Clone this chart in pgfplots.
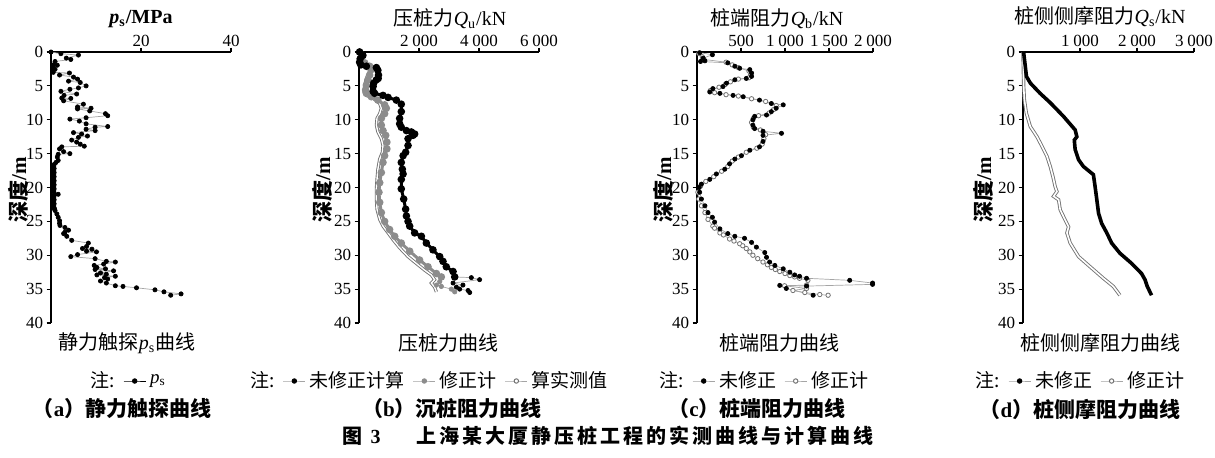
\documentclass[border=0pt]{standalone}
\usepackage{fontspec}
\setmainfont{Liberation Serif}
\newfontfamily\cjk{Noto Sans CJK SC}
\newfontfamily\cjkcap[LetterSpace=15]{Noto Sans CJK SC}
\usepackage{pgfplots}
\pgfplotsset{compat=1.18}
\definecolor{gfill}{RGB}{140,140,140}
\definecolor{gedge}{RGB}{115,115,115}
\definecolor{gline}{RGB}{165,165,165}
\pgfplotsset{
 panel/.style={
  scale only axis, height=135.5pt, anchor=north west,
  y dir=reverse, ymin=0, ymax=40, ytick={0,5,...,40},
  axis x line=top, axis y line=left,
  axis line style={-, line width=0.7pt},
  tick align=outside, major tick length=2.2pt,
  tick style={black, line width=0.6pt},
  enlargelimits=false, clip=false,
  tick label style={font=\fontsize{8.5}{9}\selectfont},
  xticklabel style={yshift=-3.2pt},
  yticklabel style={xshift=1.8pt},
  /pgf/number format/assume math mode=true,
  /pgf/number format/1000 sep={\hspace{0.22em}},
  legend style={draw=none, fill=none, anchor=center, legend columns=-1,
    font=\fontsize{9.5}{11}\selectfont, inner sep=0pt,
    /tikz/every even column/.append style={column sep=2pt}},
  legend image code/.code={\draw[mark repeat=2,mark phase=2,#1] plot coordinates {(0pt,0pt) (5.5pt,0pt) (11pt,0pt)};},
 },
 blk/.style={gline, line width=0.35pt, mark=*, mark size=1.05pt, mark options={draw=black, fill=black}},
 gry/.style={gline, line width=0.35pt, mark=*, mark size=1.1pt, mark options={draw=gedge, fill=white, line width=0.4pt}},
}
\begin{document}
\begin{tikzpicture}
\useasboundingbox (0,0) rectangle (607.5pt,-228.5pt);

% ---------- (a) ----------
\begin{axis}[panel, at={(25.5pt,-26pt)}, width=90pt, xmin=0, xmax=40, xtick={20,40},
  legend style={at={(axis description cs:0.43,-0.214)}}]
\addlegendimage{empty legend}\addlegendentry{\cjk 注:}
\addlegendimage{black, line width=0.5pt, mark=*, mark size=1.1pt, mark options={fill=black}}
\addlegendentry{\textit{p}\textsubscript{s}}
\addplot[blk, forget plot] coordinates {
(0,0) (2.2,0.25) (6.1,0.45) (3.4,0.9) (4.4,1.1) (0.9,1.4) (0.5,1.9) (1.4,1.95) (0.4,2.3) (0.9,2.55)
(0.4,2.8) (0.5,3.0) (4.1,3.1) (1.9,3.4) (5.0,3.7) (5.9,4.0) (3.9,4.3) (6.5,4.5) (7.8,5.0) (6.1,5.3)
(4.2,5.5) (2.2,5.8) (5.7,6.2) (2.9,6.4) (2.4,6.8) (4.4,6.85) (2.8,7.2) (7.2,7.7) (5.9,8.1) (8.9,8.3)
(5.9,8.4) (8.6,8.7) (12.1,9.1) (12.6,9.4) (7.8,9.7) (4.2,9.9) (6.3,10.2) (7.8,10.6) (12.6,11.0) (9.8,11.1)
(7.8,11.4) (9.8,11.6) (5.0,11.9) (6.8,12.1) (8.1,12.4) (6.1,12.6) (4.6,13.0) (5.7,13.3) (6.5,13.6) (7.4,13.9)
(2.4,14.0) (1.9,14.3) (2.8,14.7) (4.2,15.0) (1.6,15.1) (1.4,15.5) (1.6,16.0) (1.1,16.3)
(0.7,16.6) (0.6,16.9) (0.7,17.2) (0.6,17.5) (0.7,17.8) (0.6,18.1) (0.7,18.4) (0.6,18.7) (0.7,19.0)
(0.6,19.3) (0.7,19.6) (0.6,19.9) (0.7,20.2) (0.6,20.5) (0.7,20.8) (1.6,21.0) (0.7,21.2) (0.6,21.5)
(0.7,21.8) (0.6,22.1) (0.7,22.4) (0.6,22.7) (0.7,23.0) (0.8,23.2) (0.9,23.4) (1.3,23.9) (1.6,24.4)
(1.9,24.9) (1.9,25.3) (2.0,25.6) (3.1,25.9) (3.9,26.3) (3.1,26.6) (2.8,26.8) (3.5,27.2) (4.6,27.8)
(8.3,28.2) (7.9,28.7) (7.0,29.0) (9.1,29.1) (7.9,29.4) (10.1,29.5) (5.9,29.9) (4.4,30.2) (9.8,30.5)
(12.3,30.9) (14.3,31.0) (11.7,31.3) (9.6,31.5) (10.2,31.8) (12.1,32.0) (9.8,32.1) (13.9,32.3) (11.0,32.6)
(12.3,32.8) (10.2,32.9) (14.3,33.1) (11.9,33.3) (12.6,33.5) (11.0,33.8) (12.3,34.1) (14.3,34.5) (16.0,34.6)
(19.0,34.8) (23.1,35.1) (25.1,35.4) (28.9,35.7) (26.6,35.9)
};
\end{axis}

% ---------- (b) ----------
\begin{axis}[panel, at={(179.5pt,-26pt)}, width=90pt, xmin=0, xmax=6000, xtick={2000,4000,6000},
  legend style={at={(axis description cs:0.39,-0.214)}}]
\addlegendimage{empty legend}\addlegendentry{\cjk 注:}
\addlegendimage{gline, line width=0.5pt, mark=*, mark size=1.1pt, mark options={draw=black,fill=black}}
\addlegendentry{\cjk 未修正计算}
\addlegendimage{gline, line width=0.5pt, mark=*, mark size=1.1pt, mark options={draw=gfill,fill=gfill}}
\addlegendentry{\cjk 修正计}
\addlegendimage{gline, line width=0.5pt, mark=*, mark size=1.1pt, mark options={draw=gedge,fill=white}}
\addlegendentry{\cjk 算实测值}
% hollow (measured)
\addplot[forget plot, draw=gedge, line width=0.45pt, double=white, double distance=0.7pt] coordinates {
(20,0) (130,1.6) (300,2.1) (350,2.8) (245,3.9) (190,4.9) (165,5.9) (245,6.4) (465,6.8) (690,7.6)
(745,8.3) (690,9.1) (600,9.8) (580,10.8) (630,11.8) (745,12.8) (800,13.8) (780,14.8) (690,15.8) (630,17.3)
(600,18.8) (580,20.2) (580,21.7) (600,23.2) (690,24.7) (800,25.7) (970,26.7) (1135,27.7) (1355,28.9)
(1635,30.2) (1910,31.2) (2190,32.2) (2410,32.9) (2520,33.6) (2410,34.1) (2520,34.7) (2580,35.4)
};
% gray filled (corrected)
\addplot[forget plot, gfill, line width=1.5pt, mark=*, mark size=1.1pt, mark options={draw=gfill, fill=gfill}] coordinates {
(20,0) (80,0.9) (190,1.6) (355,2.1) (410,2.6) (355,3.4) (300,4.1) (245,4.9) (220,5.6) (245,6.1)
(410,6.6) (630,7.1) (855,7.8) (910,8.3) (855,9.1) (745,9.8) (745,10.8) (800,11.6) (890,12.3) (930,13.3)
(930,14.3) (855,15.3) (800,16.3) (745,17.8) (690,19.3) (665,20.7) (690,22.2) (745,23.7) (855,25.0)
(1020,26.2) (1190,27.2) (1410,28.2) (1690,29.4) (2020,30.7) (2300,31.7) (2580,32.7) (2745,33.2)
};
\addplot[forget plot, gline, line width=0.35pt, mark=*, mark size=1.1pt, mark options={draw=gfill, fill=gfill}] coordinates {
(2745,33.2) (2690,33.9) (2580,34.4) (2745,34.6) (3080,35.0) (3190,35.4)
};
% black (uncorrected)
\addplot[forget plot, black, line width=1.5pt, mark=*, mark size=1.1pt, mark options={fill=black}] coordinates {
(20,0) (130,0.5) (40,1.0) (20,1.5) (60,1.9) (245,2.1) (580,2.3) (630,2.7) (650,3.4) (640,3.9)
(580,4.1) (490,4.6) (470,5.1) (470,5.8) (520,6.1) (800,6.4) (970,6.7) (1245,7.1) (1410,7.7) (1410,8.8)
(1355,9.8) (1355,10.6) (1410,11.1) (1580,11.6) (1745,11.8) (1855,12.1) (1800,12.3) (1635,12.8) (1635,13.8)
(1555,14.8) (1470,15.3) (1410,16.3) (1445,17.3) (1470,18.0) (1410,18.8) (1410,20.2) (1490,21.7) (1555,23.2)
(1580,24.2) (1635,25.0) (1690,25.7) (1855,26.7) (2080,27.2) (2245,28.2) (2465,29.2) (2690,30.2)
(2800,30.9) (2910,31.7) (3135,32.4) (3190,33.2)
};
\addplot[forget plot, blk] coordinates {
(3190,33.2) (3745,33.3) (4020,33.6) (3135,34.1) (3465,34.4) (3245,34.7) (3355,35.0) (3635,35.2) (3690,35.5)
};
\end{axis}

% ---------- (c) ----------
\begin{axis}[panel, at={(348.5pt,-26pt)}, width=88pt, xmin=0, xmax=2000, xtick={500,1000,1500,2000},
  legend style={at={(axis description cs:0.381,-0.214)}}]
\addlegendimage{empty legend}\addlegendentry{\cjk 注:}
\addlegendimage{gline, line width=0.5pt, mark=*, mark size=1.1pt, mark options={draw=black,fill=black}}
\addlegendentry{\cjk 未修正}
\addlegendimage{gline, line width=0.5pt, mark=*, mark size=1.1pt, mark options={draw=gedge,fill=white}}
\addlegendentry{\cjk 修正计}
\addplot[forget plot, gry] coordinates {
(20,0.2) (60,0.7) (80,1.1) (330,1.5) (400,1.9) (470,2.3) (590,2.8) (610,3.3) (590,3.8) (470,4.0)
(380,4.4) (320,4.8) (250,5.2) (150,5.7) (200,6.0) (330,6.3) (470,6.5) (620,6.9) (780,7.3) (900,7.9)
(870,8.5) (820,9.0) (700,9.4) (640,9.8) (620,10.4) (640,11.1) (720,11.5) (780,12.2) (760,12.8) (740,13.6)
(680,14.2) (560,14.8) (470,15.5) (400,16.1) (350,16.9) (280,17.6) (190,18.4) (100,19.1) (40,19.8)
(10,20.7) (20,21.7) (50,22.7) (90,23.7) (125,24.7) (180,25.7) (200,26.0) (260,26.7) (300,27.0)
(370,27.6) (420,27.9) (485,28.3) (520,28.6) (560,29.0) (600,29.5) (635,30.0) (690,30.5) (750,31.0)
(800,31.4) (845,31.8) (890,32.1) (940,32.4) (1000,32.7) (1055,33.0) (1110,33.2) (1165,33.4) (1260,33.7)
(1245,34.4) (995,34.5) (1245,34.9) (1090,35.2) (1225,35.5) (1395,35.8) (1490,35.9)
};
\addplot[forget plot, blk] coordinates {
(30,0.1) (175,0.4) (70,0.9) (90,1.3) (40,1.4) (350,1.6) (430,2.1) (485,2.4) (600,2.6) (620,3.1)
(620,3.6) (560,3.9) (430,4.1) (335,4.6) (295,5.1) (180,5.4) (145,5.9) (260,6.1) (410,6.4) (525,6.6)
(710,7.1) (845,7.6) (980,7.8) (900,8.3) (845,8.8) (790,9.3) (655,9.5) (635,10.0) (635,10.8) (655,11.3)
(750,11.7) (960,12.0) (750,12.3) (750,13.2) (710,14.0) (600,14.5) (505,15.3) (430,15.8) (370,16.5)
(315,17.3) (220,18.0) (145,18.8) (50,19.5) (25,20.0) (30,20.7) (50,21.7) (90,22.7) (125,23.7)
(175,24.4) (200,25.1) (260,26.1) (350,26.8) (430,27.2) (540,27.5) (620,28.1) (675,28.8) (770,29.6)
(790,30.3) (825,31.0) (885,31.5) (980,32.0) (1055,32.5) (1110,32.9) (1165,33.1) (1245,33.4) (1735,33.7)
(1995,34.1) (1995,34.3) (1245,34.55) (940,34.45) (1015,34.9) (1320,35.9)
};
\end{axis}

% ---------- (d) ----------
\begin{axis}[panel, at={(511.5pt,-26pt)}, width=85.5pt, xmin=0, xmax=3000, xtick={1000,2000,3000},
  legend style={at={(axis description cs:0.333,-0.214)}}]
\addlegendimage{empty legend}\addlegendentry{\cjk 注:}
\addlegendimage{gline, line width=0.5pt, mark=*, mark size=1.1pt, mark options={draw=black,fill=black}}
\addlegendentry{\cjk 未修正}
\addlegendimage{gline, line width=0.5pt, mark=*, mark size=1.1pt, mark options={draw=gedge,fill=white}}
\addlegendentry{\cjk 修正计}
\addplot[forget plot, draw=gedge, line width=0.45pt, double=white, double distance=0.8pt] coordinates {
(0,0) (12,5.1) (23,7.0) (58,9.0) (128,11.0) (245,12.5) (332,13.9) (420,15.4) (478,16.9) (525,18.4)
(565,19.9) (595,20.6) (536,21.3) (624,21.8) (653,23.3) (740,24.8) (800,25.8) (770,26.7) (828,28.2)
(975,30.2) (1178,31.7) (1410,33.4) (1585,34.6) (1700,35.9)
};
\addplot[forget plot, black, line width=1.8pt] coordinates {
(10,0) (40,2.1) (60,3.6) (130,4.6) (300,6.1) (480,7.5) (710,9.5) (915,11.5) (945,12.5) (900,13.0)
(915,14.4) (975,15.9) (1060,16.9) (1235,18.1) (1265,19.9) (1295,21.8) (1325,23.8) (1380,25.3)
(1470,26.7) (1555,28.2) (1700,29.7) (1905,31.2) (2080,32.7) (2140,33.6) (2180,34.6) (2255,35.9)
};
\end{axis}

\begin{scope}[x=0.5pt,y=-0.5pt]
% titles
\node[font=\fontsize{10}{12}\selectfont] at (141,19) {\bfseries\textit{p}\textsubscript{s}/MPa};
\node[font=\fontsize{10}{12}\selectfont] at (450,19) {{\cjk 压桩力}\textit{Q}\textsubscript{u}/kN};
\node[font=\fontsize{10}{12}\selectfont] at (777,19) {{\cjk 桩端阻力}\textit{Q}\textsubscript{b}/kN};
\node[font=\fontsize{10}{12}\selectfont] at (1100,17) {{\cjk 桩侧侧摩阻力}\textit{Q}\textsubscript{s}/kN};
% y labels
\foreach \xx in {18,322,663,983}
  \node[rotate=90, font=\fontsize{10.5}{12}\selectfont] at (\xx,190) {{\cjk\bfseries 深度}\textbf{/m}};
% subtitles
\node[font=\fontsize{10}{12}\selectfont] at (127,343) {{\cjk 静力触探}\textit{p}\textsubscript{s}{\cjk 曲线}};
\node[font=\fontsize{10}{12}\selectfont] at (448,343) {\cjk 压桩力曲线};
\node[font=\fontsize{10}{12}\selectfont] at (779,343) {\cjk 桩端阻力曲线};
\node[font=\fontsize{10}{12}\selectfont] at (1100,343) {\cjk 桩侧侧摩阻力曲线};
% captions
\node[font=\fontsize{10.5}{12}\selectfont] at (122,409) {{\cjk\bfseries （}\textbf{a}{\cjk\bfseries ）静力触探曲线}};
\node[font=\fontsize{10.5}{12}\selectfont] at (452,409) {{\cjk\bfseries （}\textbf{b}{\cjk\bfseries ）沉桩阻力曲线}};
\node[font=\fontsize{10.5}{12}\selectfont] at (757,409) {{\cjk\bfseries （}\textbf{c}{\cjk\bfseries ）桩端阻力曲线}};
\node[font=\fontsize{10.5}{12}\selectfont] at (1080,409) {{\cjk\bfseries （}\textbf{d}{\cjk\bfseries ）桩侧摩阻力曲线}};
% figure caption
\node[font=\fontsize{10}{12}\selectfont] at (608,436) {{\cjkcap\bfseries 图}\ \textbf{3}\hspace{1.8em}{\cjkcap\bfseries 上海某大厦静压桩工程的实测曲线与计算曲线}};
\end{scope}
\end{tikzpicture}
\end{document}
